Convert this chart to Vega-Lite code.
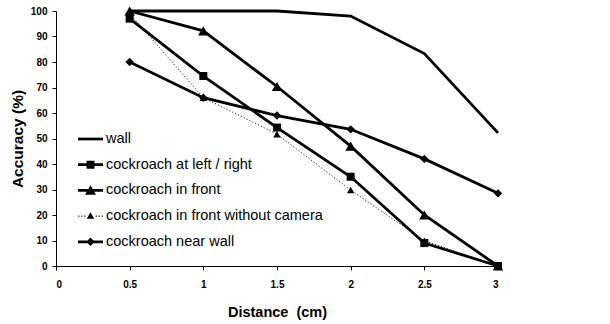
{
  "$schema": "https://vega.github.io/schema/vega-lite/v6.json",
  "width": 442,
  "height": 255,
  "autosize": {"type": "none"},
  "padding": {"left": 56, "top": 11, "right": 112, "bottom": 58},
  "background": "white",
  "config": {
    "view": {"stroke": null},
    "axis": {
      "labelFont": "Liberation Sans",
      "labelFontWeight": "bold",
      "labelFontSize": 10,
      "labelColor": "black",
      "domainColor": "black",
      "domainWidth": 1,
      "tickColor": "black",
      "tickSize": 4,
      "grid": false,
      "titleFont": "Liberation Sans",
      "titleFontWeight": "bold",
      "titleColor": "black"
    }
  },
  "data": {
    "values": [
      {"d": 0.5, "acc": 100, "s": "wall"},
      {"d": 1, "acc": 100, "s": "wall"},
      {"d": 1.5, "acc": 100, "s": "wall"},
      {"d": 2, "acc": 98, "s": "wall"},
      {"d": 2.5, "acc": 83.3, "s": "wall"},
      {"d": 3, "acc": 52.2, "s": "wall"},
      {"d": 0.5, "acc": 97, "s": "cockroach at left / right"},
      {"d": 1, "acc": 74.5, "s": "cockroach at left / right"},
      {"d": 1.5, "acc": 54.3, "s": "cockroach at left / right"},
      {"d": 2, "acc": 35, "s": "cockroach at left / right"},
      {"d": 2.5, "acc": 9, "s": "cockroach at left / right"},
      {"d": 3, "acc": 0, "s": "cockroach at left / right"},
      {"d": 0.5, "acc": 100, "s": "cockroach in front"},
      {"d": 1, "acc": 92.2, "s": "cockroach in front"},
      {"d": 1.5, "acc": 70.4, "s": "cockroach in front"},
      {"d": 2, "acc": 47, "s": "cockroach in front"},
      {"d": 2.5, "acc": 20, "s": "cockroach in front"},
      {"d": 3, "acc": 0, "s": "cockroach in front"},
      {"d": 0.5, "acc": 99, "s": "cockroach in front without camera"},
      {"d": 1, "acc": 66, "s": "cockroach in front without camera"},
      {"d": 1.5, "acc": 51.7, "s": "cockroach in front without camera"},
      {"d": 2, "acc": 29.8, "s": "cockroach in front without camera"},
      {"d": 2.5, "acc": 9.9, "s": "cockroach in front without camera"},
      {"d": 3, "acc": 0, "s": "cockroach in front without camera"},
      {"d": 0.5, "acc": 80, "s": "cockroach near wall"},
      {"d": 1, "acc": 66, "s": "cockroach near wall"},
      {"d": 1.5, "acc": 59, "s": "cockroach near wall"},
      {"d": 2, "acc": 53.6, "s": "cockroach near wall"},
      {"d": 2.5, "acc": 42, "s": "cockroach near wall"},
      {"d": 3, "acc": 28.5, "s": "cockroach near wall"}
    ]
  },
  "encoding": {
    "x": {
      "field": "d",
      "type": "quantitative",
      "scale": {"domain": [0, 3], "nice": false},
      "axis": {
        "values": [0, 0.5, 1, 1.5, 2, 2.5, 3],
        "format": "~g",
        "labelPadding": 9,
        "title": "Distance\u00a0 (cm)",
        "titleFontSize": 14.5,
        "titlePadding": 16
      }
    },
    "y": {
      "field": "acc",
      "type": "quantitative",
      "scale": {"domain": [0, 100], "nice": false},
      "axis": {
        "values": [0, 10, 20, 30, 40, 50, 60, 70, 80, 90, 100],
        "labelPadding": 5,
        "title": "Accuracy (%)",
        "titleFontSize": 15.5,
        "titlePadding": 5
      }
    }
  },
  "layer": [
    {
      "transform": [{"filter": "datum.s !== 'cockroach in front without camera'"}],
      "mark": {"type": "line", "color": "black", "strokeWidth": 2.8},
      "encoding": {"detail": {"field": "s", "type": "nominal"}}
    },
    {
      "transform": [{"filter": "datum.s === 'cockroach in front without camera'"}],
      "mark": {"type": "line", "color": "#222222", "strokeWidth": 1, "strokeDash": [1.2, 2]},
      "encoding": {}
    },
    {
      "transform": [{"filter": "datum.s === 'cockroach at left / right'"}],
      "mark": {"type": "point", "shape": "square", "size": 64, "filled": true, "color": "black", "opacity": 1}
    },
    {
      "transform": [{"filter": "datum.s === 'cockroach in front'"}],
      "mark": {"type": "point", "shape": "triangle-up", "size": 110, "filled": true, "color": "black", "opacity": 1}
    },
    {
      "transform": [{"filter": "datum.s === 'cockroach in front without camera'"}],
      "mark": {"type": "point", "shape": "triangle-up", "size": 55, "filled": true, "color": "black", "opacity": 1}
    },
    {
      "transform": [{"filter": "datum.s === 'cockroach near wall'"}],
      "mark": {"type": "point", "shape": "diamond", "size": 70, "filled": true, "color": "black", "opacity": 1}
    },
    {
      "mark": {"type": "point", "filled": true, "color": "black", "opacity": 0, "strokeWidth": 0},
      "encoding": {
        "shape": {
          "field": "s",
          "type": "nominal",
          "scale": {
            "domain": ["wall", "cockroach at left / right", "cockroach in front", "cockroach in front without camera", "cockroach near wall"],
            "range": [
              "M-1,-0.11H1V0.11H-1Z",
              "M-1,-0.11H1V0.11H-1Z M-0.32,-0.32H0.32V0.32H-0.32Z",
              "M-1,-0.11H1V0.11H-1Z M0,-0.42L0.44,0.34L-0.44,0.34Z",
              "M-0.98,-0.045h0.09v0.09h-0.09Z M-0.74,-0.045h0.09v0.09h-0.09Z M-0.5,-0.045h0.09v0.09h-0.09Z M0.42,-0.045h0.09v0.09h-0.09Z M0.66,-0.045h0.09v0.09h-0.09Z M0.9,-0.045h0.09v0.09h-0.09Z M0,-0.3L0.3,0.22L-0.3,0.22Z",
              "M-1,-0.11H1V0.11H-1Z M0,-0.34L0.34,0L0,0.34L-0.34,0Z"
            ]
          },
          "legend": {
            "orient": "none",
            "legendX": 22,
            "legendY": 115.5,
            "title": null,
            "padding": 0,
            "symbolSize": 625,
            "symbolStrokeWidth": 0,
            "symbolFillColor": "black",
            "symbolOpacity": 1,
            "labelFont": "Liberation Sans",
            "labelFontSize": 14.5,
            "labelColor": "black",
            "labelOffset": 3,
            "rowPadding": 6.7,
            "labelLimit": 400
          }
        }
      }
    }
  ]
}
